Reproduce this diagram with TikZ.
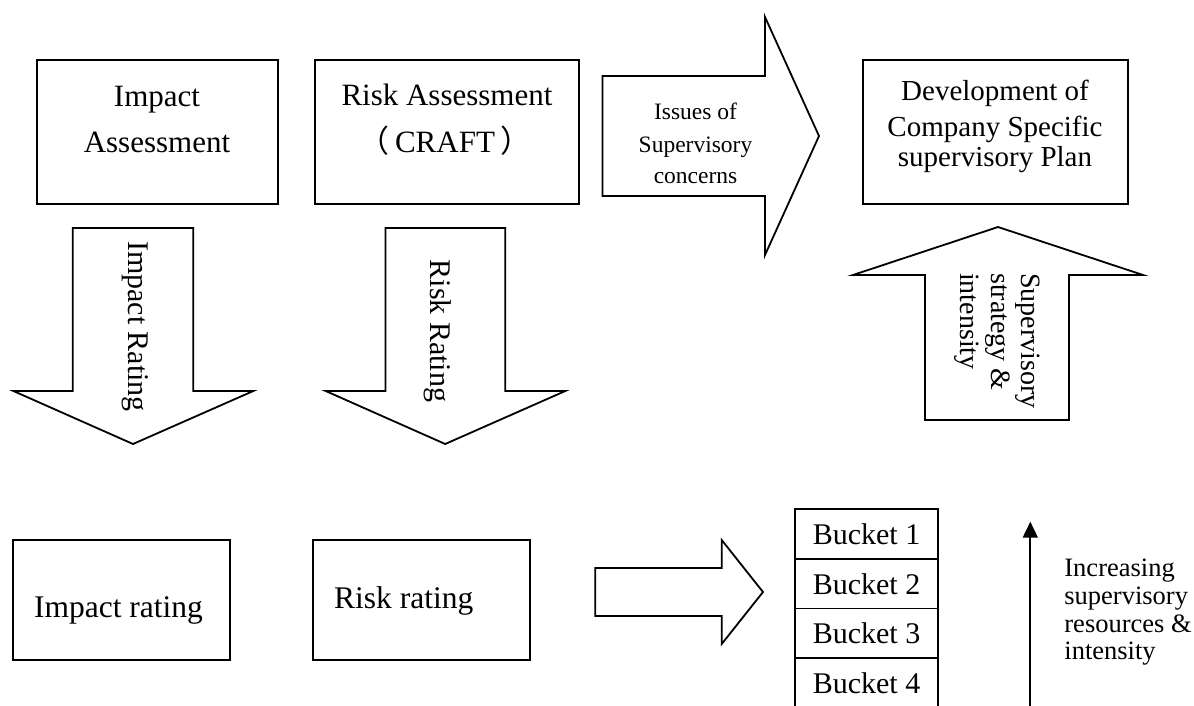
\documentclass[tikz,border=0pt]{standalone}
\usepackage{fontspec}
\setmainfont{Liberation Serif}
\newfontfamily\cjkfont{Noto Sans CJK SC}
\usetikzlibrary{arrows.meta}
\newcommand{\fsz}[1]{\fontsize{#1pt}{#1pt}\selectfont}
\tikzset{
  outline/.style={draw=black, line width=1.8pt, line join=miter},
  box/.style={outline, rectangle, inner sep=0pt},
  txt/.style={inner sep=0pt, anchor=base, text=black},
  rtxt/.style={inner sep=0pt, anchor=base west, text=black},
}
\begin{document}
\begin{tikzpicture}[x=1pt,y=-1pt]
\useasboundingbox (0,0) rectangle (1194,706);
\clip (0,0) rectangle (1194,706);

% top boxes
\node[box, minimum width=241pt, minimum height=144pt] (ia) at (157.5,132) {};
\node[box, minimum width=264pt, minimum height=144pt] (ra) at (447,132) {};
\node[box, minimum width=264.4pt, minimum height=144pt] (dev) at (995.5,132) {};

\node[txt, font=\fsz{31}] (iat1) at (157,107) {Impact};
\node[txt, font=\fsz{31}] (iat2) at (157,153) {Assessment};
\node[txt, font=\fsz{31}] (rat1) at (447,106) {Risk Assessment};
\node[txt, font=\fsz{31}] (rat2) at (445,153) {{\cjkfont （}\hspace{6pt}CRAFT\hspace{6pt}{\cjkfont ）}};

\node[txt, font=\fsz{29}] (dt1) at (995,101) {Development of};
\node[txt, font=\fsz{29}] (dt2) at (995,136.5) {Company Specific};
\node[txt, font=\fsz{29}] (dt3) at (995,167) {supervisory Plan};

% issues arrow
\draw[outline] (602.5,76) -- (765,76) -- (765,17) -- (819,136) -- (765,255) -- (765,196) -- (602.5,196) -- cycle;
\node[txt, font=\fsz{23.5}] (is1) at (695.5,120) {Issues of};
\node[txt, font=\fsz{23.5}] (is2) at (695.5,153) {Supervisory};
\node[txt, font=\fsz{23.5}] (is3) at (695.5,183) {concerns};

% down arrows
\draw[outline] (72.7,228) -- (193.3,228) -- (193.3,391) -- (253.3,391) -- (133,444) -- (13.4,391) -- (72.7,391) -- cycle;
\draw[outline] (385.4,228) -- (505.2,228) -- (505.2,391) -- (565.3,391) -- (445.2,444) -- (325.7,391) -- (385.4,391) -- cycle;
\node[txt, rotate=-90, font=\fsz{30}] (irt) at (128.2,326.5) {Impact Rating};
\node[txt, rotate=-90, font=\fsz{30}] (rrt) at (430.5,331) {Risk Rating};

% up arrow
\draw[outline] (925,420) -- (925,275) -- (853,275) -- (998,227) -- (1143,275) -- (1069,275) -- (1069,420) -- cycle;
\node[rtxt, rotate=-90, font=\fsz{28}] (ss1) at (1021.7,273) {Supervisory};
\node[rtxt, rotate=-90, font=\fsz{28}] (ss2) at (991.7,273) {strategy \&};
\node[rtxt, rotate=-90, font=\fsz{28}] (ss3) at (960.7,273) {intensity};

% bottom boxes
\node[box, minimum width=217pt, minimum height=120pt] (ir) at (121.1,600.3) {};
\node[box, minimum width=217.3pt, minimum height=120pt] (rr) at (421.4,600.3) {};
\node[txt, font=\fsz{31.5}] (irl) at (118.5,617) {Impact rating};
\node[rtxt, font=\fsz{31.5}] (rrl) at (334,608) {Risk rating};

% right block arrow
\draw[outline] (595.2,568) -- (721.7,568) -- (721.7,540) -- (763,592) -- (721.7,644) -- (721.7,616) -- (595.2,616) -- cycle;

% buckets
\node[box, minimum width=143pt, minimum height=49.7pt] (b1) at (866.5,533.85) {};
\node[box, minimum width=143pt, minimum height=49.7pt] (b2) at (866.5,583.55) {};
\node[box, minimum width=143pt, minimum height=49.7pt] (b3) at (866.5,633.25) {};
\node[box, minimum width=143pt, minimum height=49.7pt] (b4) at (866.5,682.95) {};
\node[txt, font=\fsz{30}] (b1t) at (866.5,544.3) {Bucket 1};
\node[txt, font=\fsz{30}] (b2t) at (866.5,594) {Bucket 2};
\node[txt, font=\fsz{30}] (b3t) at (866.5,643.7) {Bucket 3};
\node[txt, font=\fsz{30}] (b4t) at (866.5,693.3) {Bucket 4};

% vertical arrow
\coordinate (vb) at (1030.3,715);
\coordinate (vt) at (1030.3,521.7);
\draw[line width=1.8pt, -{Triangle[length=16pt,width=15pt]}] (vb) -- (vt);

\node[rtxt, font=\fsz{26.5}] (inc1) at (1064.2,576.7) {Increasing};
\node[rtxt, font=\fsz{26.5}] (inc2) at (1064.2,604.3) {supervisory};
\node[rtxt, font=\fsz{26.5}] (inc3) at (1064.2,632) {resources \&};
\node[rtxt, font=\fsz{26.5}] (inc4) at (1064.2,659.7) {intensity};
\end{tikzpicture}
\end{document}
